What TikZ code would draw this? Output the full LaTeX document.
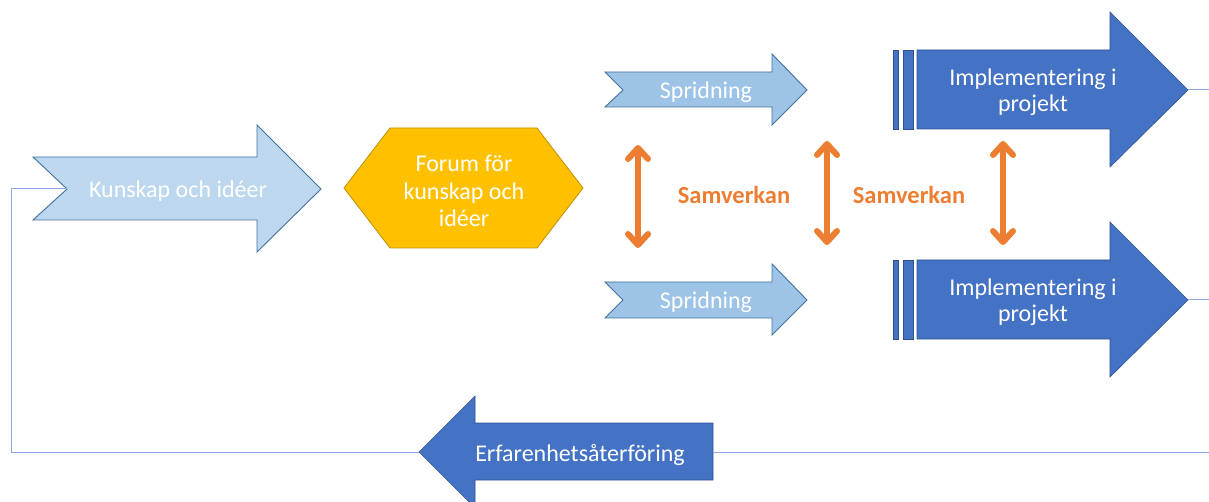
\documentclass[tikz,border=0pt]{standalone}
\usepackage{fontspec}
\setmainfont{Carlito}
\usetikzlibrary{arrows.meta}
\definecolor{kblue}{HTML}{BDD7EE}
\definecolor{sblue}{HTML}{9DC3E6}
\definecolor{lineblue}{HTML}{41719C}
\definecolor{dblue}{HTML}{4472C4}
\definecolor{dline}{HTML}{2F528F}
\definecolor{gold}{HTML}{FFC000}
\definecolor{goldline}{HTML}{BF9000}
\definecolor{orng}{HTML}{ED7D31}
\definecolor{flow}{HTML}{8FAADC}
\tikzset{
  lightarrow/.style={fill=kblue, draw=lineblue, line width=0.9pt, line join=miter},
  spridarrow/.style={fill=sblue, draw=lineblue, line width=0.9pt, line join=miter},
  darkarrow/.style={fill=dblue, draw=dline, line width=0.6pt, line join=miter},
  hexshape/.style={fill=gold, draw=goldline, line width=0.8pt},
  lbl/.style={text=white, font=\fontsize{24}{26}\selectfont, align=center, inner sep=0pt},
  samtxt/.style={text=orng, font=\fontsize{24.5}{26}\selectfont\bfseries, inner sep=0pt},
  twoway/.style={draw=orng, line width=6pt, line cap=round,
    {Straight Barb[length=11pt,width=20pt,line cap=round,line join=round]}-{Straight Barb[length=11pt,width=20pt,line cap=round,line join=round]}},
  feedback/.style={draw=flow, line width=1pt}
}
\begin{document}
\begin{tikzpicture}[x=1pt,y=-1pt]
\useasboundingbox (0,0) rectangle (1209,502);
% Kunskap arrow
\path[lightarrow] (33,157) -- (257,157) -- (257,125) -- (321,189) -- (257,252) -- (257,220) -- (33,220) -- (67,189) -- cycle;
\coordinate (knotch) at (67,189);
\node[lbl] (kunskap) at (178,191) {Kunskap och idéer};
% Forum hexagon
\path[hexshape] (344,188) -- (390,128) -- (537,128) -- (583,188) -- (537,248) -- (390,248) -- cycle;
\node[lbl, font=\fontsize{24}{27.5}\selectfont] (forum) at (464,191) {Forum för\\kunskap och\\idéer};
% Spridning arrows
\path[spridarrow] (605,72) -- (772,72) -- (772,54) -- (807,90) -- (772,125) -- (772,107) -- (605,107) -- (623,90) -- cycle;
\node[lbl] (sprid1) at (706,92) {Spridning};
\path[spridarrow] (605,282) -- (772,282) -- (772,264) -- (807,300) -- (772,335) -- (772,318) -- (605,318) -- (623,300) -- cycle;
\node[lbl] (sprid2) at (706,302) {Spridning};
% Implementation arrows
\foreach \yc/\nm in {90/impl1, 300/impl2}{
  \path[darkarrow] (893,\yc-40) rectangle (898,\yc+39);
  \path[darkarrow] (903,\yc-40) rectangle (913,\yc+39);
  \path[darkarrow] (917,\yc-40) -- (1110,\yc-40) -- (1110,\yc-78) -- (1188,\yc) -- (1110,\yc+77) -- (1110,\yc+39) -- (917,\yc+39) -- cycle;
  \coordinate (\nm tip) at (1188,\yc);
  \coordinate (\nm out) at (1209,\yc);
  \node[lbl] (\nm) at (1033,\yc+2) {Implementering i\\projekt};
}
% Erfarenhetsaterforing arrow
\path[darkarrow] (713,423) -- (475,423) -- (475,396) -- (419,452) -- (475,508) -- (475,480) -- (713,480) -- cycle;
\coordinate (etip) at (419,452);
\coordinate (eend) at (713,452);
\coordinate (rightin) at (1209,452);
\coordinate (leftcorner) at (11,452);
\coordinate (topcorner) at (11,189);
\node[lbl] (erf) at (580,455) {Erfarenhetsåterföring};
% feedback lines
\draw[feedback] (impl1tip) -- (impl1out);
\draw[feedback] (impl2tip) -- (impl2out);
\draw[feedback] (rightin) -- (eend);
\draw[feedback] (etip) -- (leftcorner) -- (topcorner) -- (knotch);
% Samverkan
\coordinate (s1t) at (638,145); \coordinate (s1b) at (638,248);
\coordinate (s2t) at (827,141); \coordinate (s2b) at (827,245);
\coordinate (s3t) at (1003,141); \coordinate (s3b) at (1003,245);
\draw[twoway] (s1t) -- (s1b);
\draw[twoway] (s2t) -- (s2b);
\draw[twoway] (s3t) -- (s3b);
\node[samtxt] (sam1) at (734,195) {Samverkan};
\node[samtxt] (sam2) at (909,195) {Samverkan};
\end{tikzpicture}
\end{document}
